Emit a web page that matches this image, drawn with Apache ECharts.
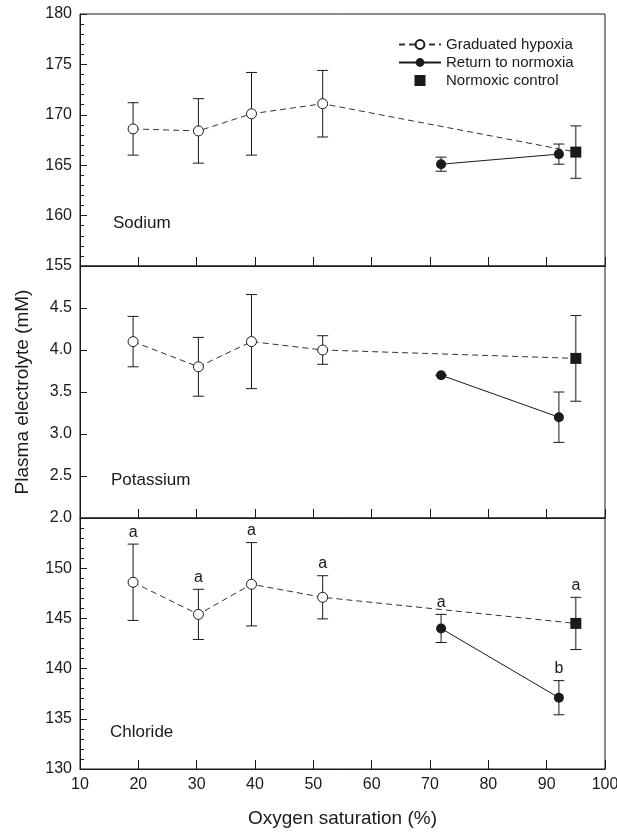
<!DOCTYPE html>
<html>
<head>
<meta charset="utf-8">
<script src="https://cdn.jsdelivr.net/npm/echarts@6/dist/echarts.min.js"></script>
<style>
  html, body { margin: 0; padding: 0; background: #fff; }
  #chart { width: 617px; height: 833px; }
</style>
</head>
<body>
<div id="chart"></div>
<script>
// oxygen saturation (%) of each group
const xHypoxia = [19.1, 30.3, 39.4, 51.6];
const xReturn = [71.9, 92.1];
const xControl = [95];

// sodium (mM): means and SE
const sodiumHypoxia = [168.6, 168.4, 170.1, 171.1];
const sodiumHypoxiaSE = [2.6, 3.2, 4.1, 3.3];
const sodiumReturn = [165.1, 166.1];
const sodiumReturnSE = [0.7, 1.0];
const sodiumControl = [166.3];
const sodiumControlSE = [2.6];

// potassium (mM)
const potassiumHypoxia = [4.1, 3.8, 4.1, 4.0];
const potassiumHypoxiaSE = [0.3, 0.35, 0.56, 0.17];
const potassiumReturn = [3.7, 3.2];
const potassiumReturnSE = [0, 0.3];
const potassiumControl = [3.9];
const potassiumControlSE = [0.51];

// chloride (mM)
const chlorideHypoxia = [148.6, 145.4, 148.4, 147.1];
const chlorideHypoxiaSE = [3.8, 2.5, 4.15, 2.15];
const chlorideReturn = [144.0, 137.1];
const chlorideReturnSE = [1.4, 1.7];
const chlorideControl = [144.5];
const chlorideControlSE = [2.6];
// significance letters for chloride
const chlorideHypoxiaLetters = ['a', 'a', 'a', 'a'];
const chlorideReturnLetters = ['a', 'b'];
const chlorideControlLetters = ['a'];

const xTicks = [10, 100, 10]; // min, max, step

const panels = [
  { name: 'Sodium', min: 155, max: 180, step: 5, minor: true, dec: 0,
    hyp: sodiumHypoxia, hypSE: sodiumHypoxiaSE, ret: sodiumReturn, retSE: sodiumReturnSE,
    ctl: sodiumControl, ctlSE: sodiumControlSE },
  { name: 'Potassium', min: 2.0, max: 5.0, step: 0.5, minor: false, dec: 1,
    hyp: potassiumHypoxia, hypSE: potassiumHypoxiaSE, ret: potassiumReturn, retSE: potassiumReturnSE,
    ctl: potassiumControl, ctlSE: potassiumControlSE },
  { name: 'Chloride', min: 130, max: 155, step: 5, minor: true, dec: 0,
    hyp: chlorideHypoxia, hypSE: chlorideHypoxiaSE, ret: chlorideReturn, retSE: chlorideReturnSE,
    ctl: chlorideControl, ctlSE: chlorideControlSE,
    letters: [chlorideHypoxiaLetters, chlorideReturnLetters, chlorideControlLetters] }
];

const FONT = '"Liberation Sans", Arial, Helvetica, sans-serif';
const INK = '#1a1a1a';
const tops = [14, 266, 518];
const H = 252;

function errBar(params, api) {
  const x = api.value(0);
  const lo = api.coord([x, api.value(1)]);
  const hi = api.coord([x, api.value(2)]);
  const w = 5.5;
  const st = { stroke: INK, lineWidth: 1 };
  return {
    type: 'group',
    children: [
      { type: 'line', shape: { x1: hi[0], y1: hi[1], x2: lo[0], y2: lo[1] }, style: st },
      { type: 'line', shape: { x1: hi[0] - w, y1: hi[1], x2: hi[0] + w, y2: hi[1] }, style: st },
      { type: 'line', shape: { x1: lo[0] - w, y1: lo[1], x2: lo[0] + w, y2: lo[1] }, style: st }
    ]
  };
}

const grids = [], xAxes = [], yAxes = [], series = [], graphics = [];

panels.forEach(function (p, i) {
  grids.push({ left: 80, right: 12, top: tops[i], height: i === 2 ? H - 1 : H,
    outerBoundsMode: 'none', containLabel: false,
    show: true, borderColor: INK, borderWidth: 1 });

  xAxes.push({
    type: 'value', gridIndex: i, min: xTicks[0], max: xTicks[1], interval: xTicks[2],
    axisLine: { show: true, lineStyle: { color: INK } },
    axisTick: { show: true, inside: true, length: 9, lineStyle: { color: INK } },
    axisLabel: { show: i === 2, color: INK, fontSize: 16, fontFamily: FONT, margin: 8 },
    splitLine: { show: false },
    name: i === 2 ? 'Oxygen saturation (%)' : '',
    nameLocation: 'middle', nameGap: 40,
    nameTextStyle: { color: INK, fontSize: 19, fontFamily: FONT }
  });

  yAxes.push({
    type: 'value', gridIndex: i, min: p.min, max: p.max, interval: p.step,
    axisLine: { show: true, lineStyle: { color: INK } },
    axisTick: { show: true, inside: true, length: 7, lineStyle: { color: INK } },
    minorTick: { show: p.minor, splitNumber: 5, length: 4, lineStyle: { color: INK } },
    axisLabel: { color: INK, fontSize: 16, fontFamily: FONT, margin: 8,
      showMaxLabel: i === 0,
      formatter: function (v) { return v.toFixed(p.dec); } },
    splitLine: { show: false },
    name: i === 1 ? 'Plasma electrolyte (mM)' : '',
    nameLocation: 'middle', nameGap: 48,
    nameTextStyle: { color: INK, fontSize: 19, fontFamily: FONT }
  });

  const bars = [];
  xHypoxia.forEach(function (x, k) { bars.push([x, p.hyp[k] - p.hypSE[k], p.hyp[k] + p.hypSE[k]]); });
  xReturn.forEach(function (x, k) { bars.push([x, p.ret[k] - p.retSE[k], p.ret[k] + p.retSE[k]]); });
  xControl.forEach(function (x, k) { bars.push([x, p.ctl[k] - p.ctlSE[k], p.ctl[k] + p.ctlSE[k]]); });

  series.push({
    type: 'custom', xAxisIndex: i, yAxisIndex: i, renderItem: errBar,
    data: bars, z: 1, silent: true
  });

  const hypData = xHypoxia.map(function (x, k) { return [x, p.hyp[k]]; });
  hypData.push({ value: [xControl[0], p.ctl[0]], symbol: 'none' });
  series.push({
    name: 'Graduated hypoxia', type: 'line', xAxisIndex: i, yAxisIndex: i,
    data: hypData, symbol: 'circle', symbolSize: 10, showAllSymbol: true, z: 3,
    itemStyle: { color: '#fff', borderColor: INK, borderWidth: 1 },
    lineStyle: { color: '#333', width: 1, type: [6, 4] }
  });
  series.push({
    name: 'Return to normoxia', type: 'line', xAxisIndex: i, yAxisIndex: i,
    data: xReturn.map(function (x, k) { return [x, p.ret[k]]; }),
    symbol: 'circle', symbolSize: 10, z: 3,
    itemStyle: { color: INK },
    lineStyle: { color: INK, width: 1 }
  });
  series.push({
    name: 'Normoxic control', type: 'scatter', xAxisIndex: i, yAxisIndex: i,
    data: xControl.map(function (x, k) { return [x, p.ctl[k]]; }),
    symbol: 'rect', symbolSize: 11, z: 4,
    itemStyle: { color: INK, opacity: 1 }
  });

  if (p.letters) {
    const lx = xHypoxia.concat(xReturn, xControl);
    const ly = p.hyp.map(function (v, k) { return v + p.hypSE[k]; })
      .concat(p.ret.map(function (v, k) { return v + p.retSE[k]; }),
              p.ctl.map(function (v, k) { return v + p.ctlSE[k]; }));
    const lt = p.letters[0].concat(p.letters[1], p.letters[2]);
    series.push({
      type: 'scatter', xAxisIndex: i, yAxisIndex: i, symbolSize: 0, silent: true,
      itemStyle: { opacity: 1, color: INK },
      data: lx.map(function (x, k) { return { value: [x, ly[k]], label: { formatter: lt[k] } }; }),
      label: { show: true, position: 'top', distance: 4, color: INK, opacity: 1, fontSize: 16, fontFamily: FONT }
    });
  }
});

graphics.push(
  { type: 'text', left: 113, top: 215, style: { text: 'Sodium', fill: INK, font: '17px ' + FONT } },
  { type: 'text', left: 111, top: 472, style: { text: 'Potassium', fill: INK, font: '17px ' + FONT } },
  { type: 'text', left: 110, top: 724, style: { text: 'Chloride', fill: INK, font: '17px ' + FONT } }
);

const chart = echarts.init(document.getElementById('chart'), null, { renderer: 'canvas' });
chart.setOption({
  animation: false,
  backgroundColor: '#fff',
  grid: grids,
  xAxis: xAxes,
  yAxis: yAxes,
  legend: {
    data: [
      { name: 'Graduated hypoxia' },
      { name: 'Return to normoxia' },
      { name: 'Normoxic control', icon: 'path://M0,0h10v10h-10z', itemStyle: { opacity: 1 } }
    ],
    orient: 'vertical', left: 398, top: 37, padding: 0,
    itemWidth: 42, itemHeight: 11, itemGap: 3, symbolKeepAspect: true,
    textStyle: { color: INK, fontSize: 15, fontFamily: FONT, lineHeight: 14 }
  },
  graphic: graphics,
  series: series
});
</script>
</body>
</html>
